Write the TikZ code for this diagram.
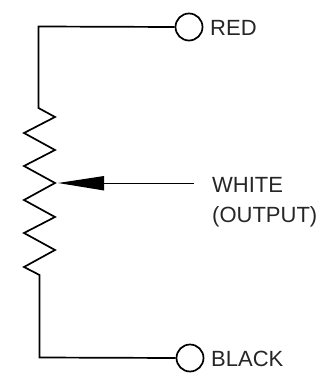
\documentclass[tikz,border=0pt]{standalone}
\usepackage{fontspec}
\setmainfont{Liberation Sans}
\usetikzlibrary{calc}
\tikzset{
  term/.style={circle,draw=black,line width=1.7pt,minimum size=27pt,inner sep=0pt,fill=white},
  wire/.style={draw=black,line width=1.7pt,line join=miter},
  lab/.style={anchor=base west,inner sep=0pt,font=\fontsize{22}{26}\selectfont,text=black!85},
  wiper/.style={draw=black,line width=1.7pt}
}
\begin{document}
\begin{tikzpicture}[x=1pt,y=-1pt]
\useasboundingbox (0,0) rectangle (328,374);
\node[term] (red) at (189,27) {};
\node[term] (black) at (190,358) {};
\coordinate (rtop) at (38.5,108);
\coordinate (rbot) at (39.5,275);
\coordinate (tip) at (58,183);
\coordinate (wend) at (194,183.5);
\draw[wire] (red.west) -- (38.5,26.5) -- (rtop)
  -- (55,117) -- (24,133) -- (55,150) -- (24,166) -- (55,183)
  -- (24,200) -- (55,217) -- (24,233) -- (55,250) -- (24,267) -- (rbot)
  -- (39.5,357.5) -- (black.west);
\draw[wiper] (wend) -- (100,183.5);
\fill[black] (tip) -- (104,176) -- (104,190.5) -- cycle;
\node[lab] (tred) at (210,36) {RED};
\node[lab] (twhite) at (212,192) {WHITE};
\node[lab] (tout) at (212,222) {(OUTPUT)};
\node[lab] (tblack) at (211,366) {BLACK};
\end{tikzpicture}
\end{document}
